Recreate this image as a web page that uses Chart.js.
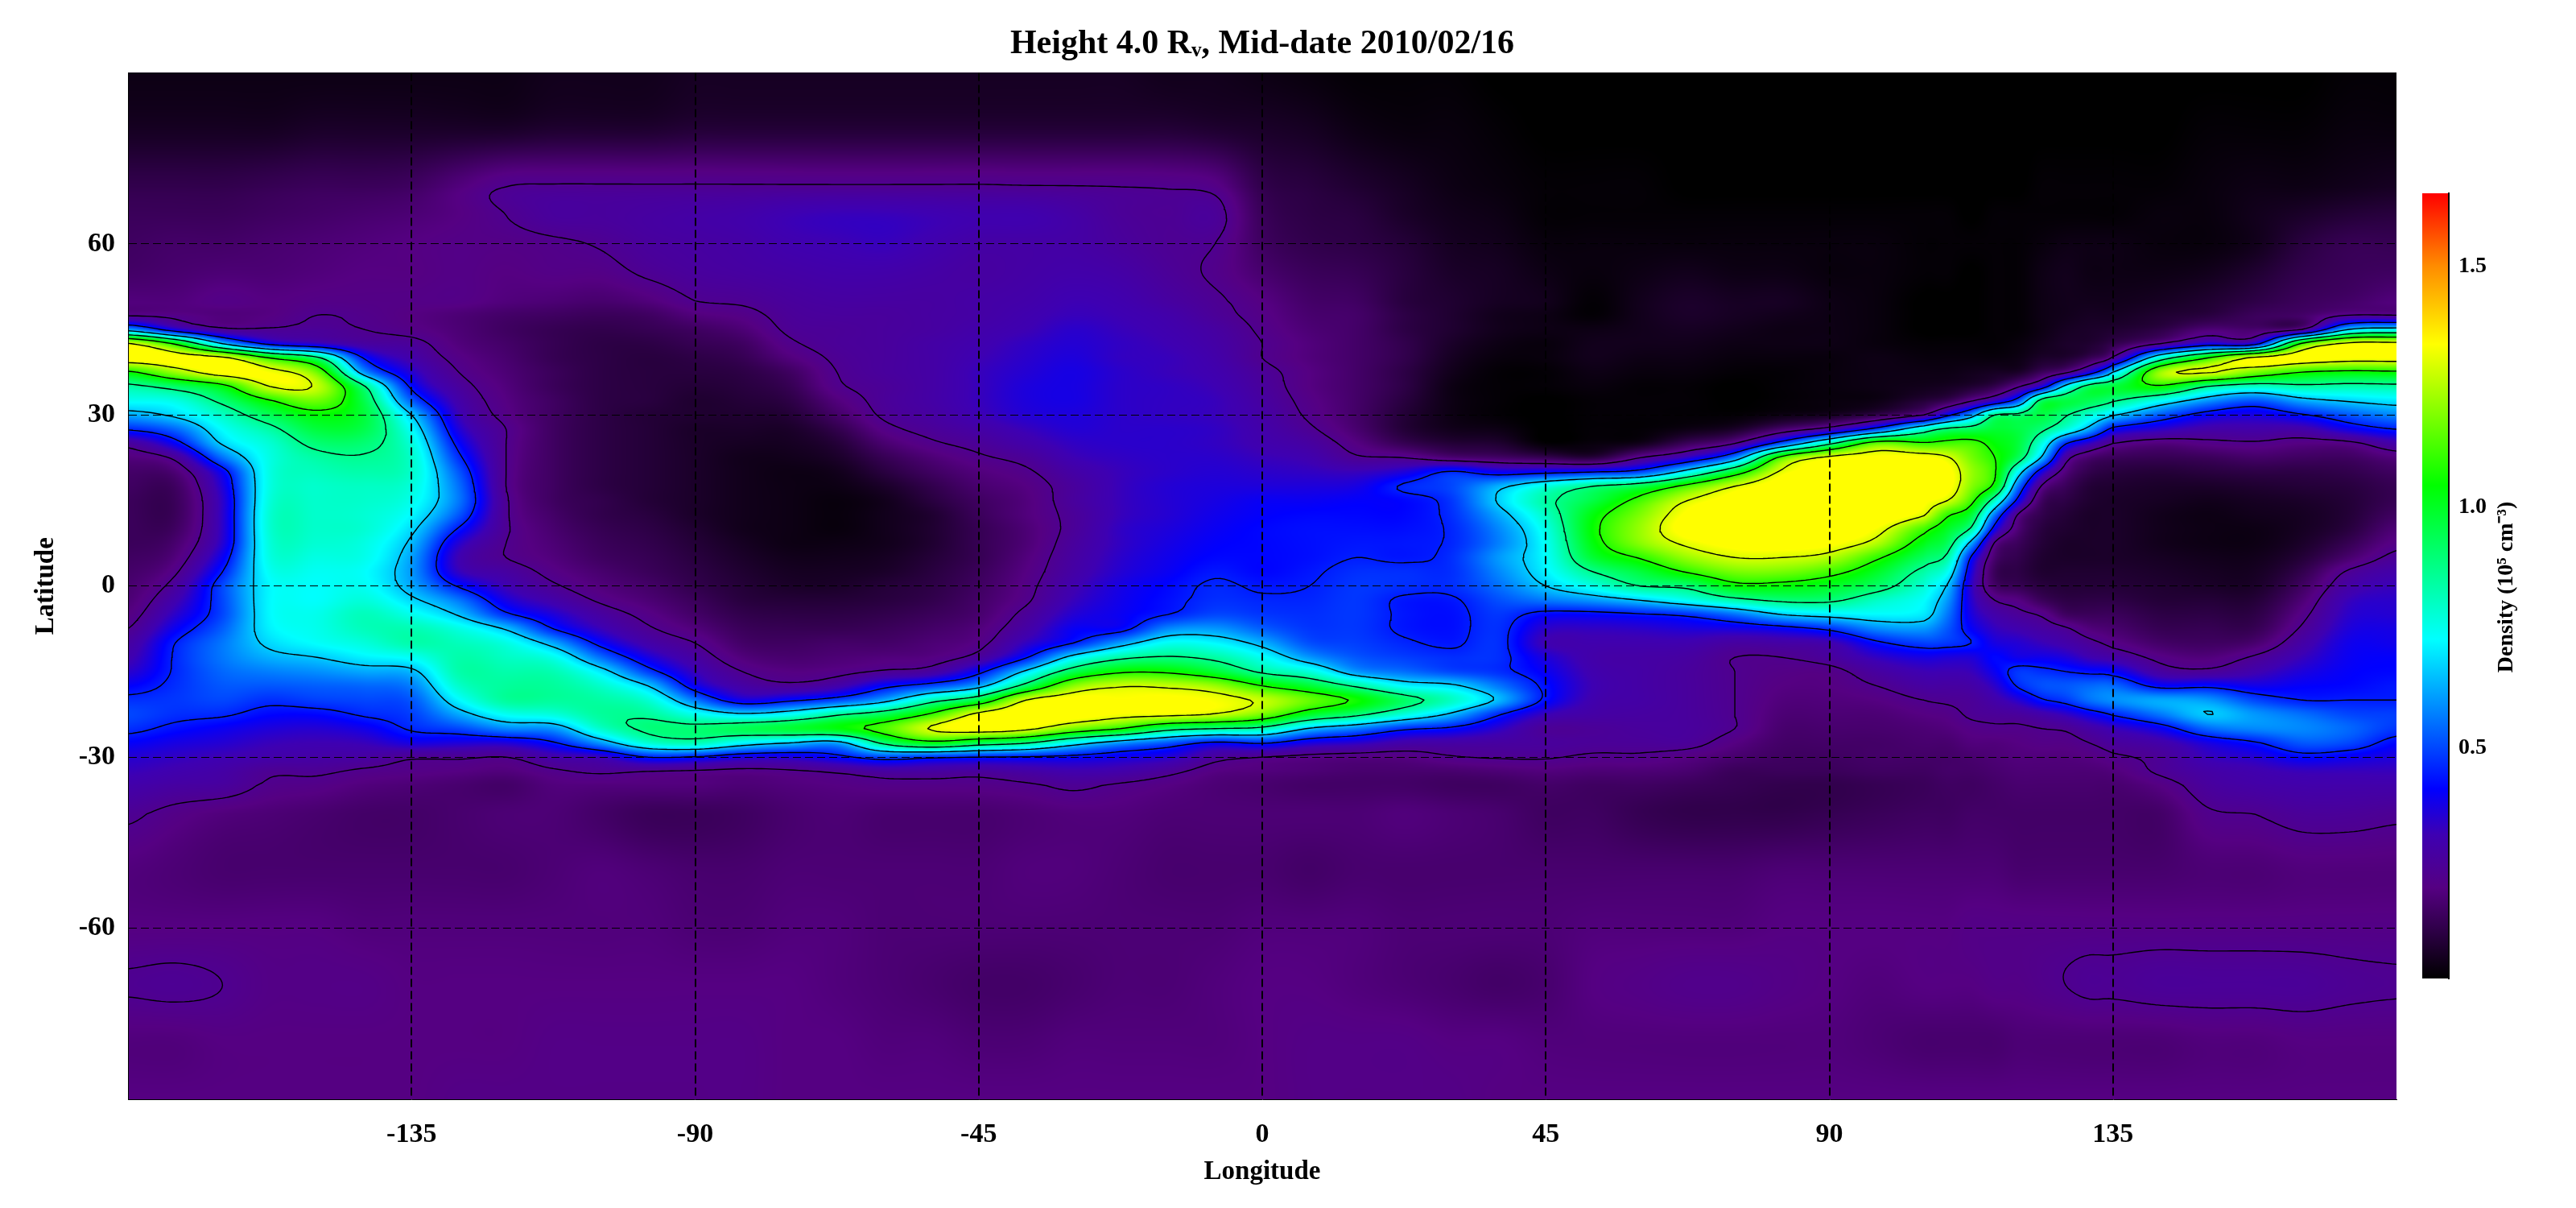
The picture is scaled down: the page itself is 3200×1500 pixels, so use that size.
<!DOCTYPE html>
<html lang="en">
<head>
    <meta charset="UTF-8">
    <title>Height 4.0 Rv, Mid-date 2010/02/16</title>
    <script src="https://cdn.jsdelivr.net/npm/chart.js@4"></script>
    <style>
        body { margin: 0; background: #fff; }
        #map { position: absolute; left: 0; top: 0; }
        #bar { position: absolute; left: 2990px; top: 0; }
    </style>
</head>
<body>
<canvas id="map" width="3200" height="1500"></canvas>
<canvas id="bar" width="210" height="1500"></canvas>

<script>
    const titleText = 'Height 4.0 R\u1D65, Mid-date 2010/02/16';
    const lonTicks = [-135, -90, -45, 0, 45, 90, 135];
    const latTicks = [-60, -30, 0, 30, 60];
    const barTicks = [0.5, 1.0, 1.5];
    const contourLevels = [0.24, 0.45, 0.66, 0.87, 1.08, 1.29];
    // the map is flat at yellow, nothing in it goes up to the red end of the bar
    const densityCeiling = 1.34;

    // colour bar: density value, then r, g, b
    const colorStops = [
        [0.022, 0, 0, 0],
        [0.12, 45, 0, 70],
        [0.21, 85, 0, 130],
        [0.32, 62, 0, 178],
        [0.415, 0, 0, 255],
        [0.726, 0, 255, 255],
        [1.045, 0, 255, 0],
        [1.338, 255, 255, 0],
        [1.5, 255, 140, 0],
        [1.651, 255, 0, 0]
    ];

    const latitudes = [90, 80, 70, 65, 60, 55, 50,
        47.5, 45, 42.5, 40, 37.5, 35, 32.5, 30, 27.5, 25,
        22.5, 20, 17.5, 15, 12.5, 10, 7.5, 5, 2.5, 0,
        -2.5, -5, -7.5, -10, -12.5, -15, -17.5, -20, -22.5, -25,
        -27.5, -30, -32.5, -35,
        -40, -50, -60, -70, -80, -90];

    const longitudes = [-180, -172.5, -165, -157.5, -150, -142.5, -135, -127.5, -120, -112.5,
        -105, -97.5, -90, -82.5, -75, -67.5, -60, -52.5, -45, -37.5, -30, -22.5, -15, -7.5,
        0, 7.5, 15, 22.5, 30, 37.5, 45, 52.5, 60, 67.5, 75, 82.5, 90, 97.5, 105, 108.75, 112.5,
        116.25, 120, 123.75, 127.5, 131.25, 135, 142.5, 150, 157.5, 165, 172.5, 180];

    // density x 100, one list per longitude, running down the latitudes above
    const densityByLon = [
        [5,7,13,15,16,17,20, 23,60,130,137,106,84,74,62,46,27, 20,17,16,15,15,15,15,16,17,18, 19,21,24,28,31,35,41,47,50,47, 41,36,33,30, 25,20,21,24.5,20,21],
        [5,7,13,15,17,18,20, 22,38,106,136,122,92,76,68,54,41, 26,19,16,15,15,16,18,20,23,27, 31,35,40,45,46,46,47,48,47,43, 38,34,31,28, 22,19,21,25,20,21],
        [5,7,13,15,17,19,22, 20,26,66,132,135,104,90,80,73,67, 55,41,37,35,35,35,36,40,45,50, 50,50,53,56,56,54,52,50,46,40, 36,32,29,27, 20,18,21,24,21,21],
        [5,7,14,16,18,19,21, 21,25,42,108,133,129,107,94,84,78, 76,76,76,77,78,78,77,76,74,72, 72,72,71,68,63,57,52,47,42,37, 33,30,25,23, 19,18,21,22,21,21],
        [5,8,15,17,19,20,22, 24,26,35,90,117,127,117,104,97,90, 84,81,79,79,79,79,78,76,74,73, 73,75,75,73,66,59,53,49,42,36, 32,29,25,22, 18,18,21,22,21,21],
        [5,8,15,18,20,21,22, 23,24,28,44,60,88,95,97,95,90, 86,83,80,79,78,78,76,75,73,74, 77,81,81,77,71,62,54,50,46,39, 33,28,23,20, 17,18,20,22,21,21],
        [5,8,16,19,21,21,22, 21,22,26,30,36,43,53,66,73,77, 79,79,77,75,72,68,64,61,60,62, 68,75,82,83,74,64,57,52,49,46, 38,25,22,19, 17,18,20,21,21,21],
        [5,8,20,21,22,22,22, 19,19,20,22,24,27,30,33,37,42, 47,52,55,56,52,44,36,32,34,44, 56,65,76,81,83,83,79,72,62,50, 37,25,21,18, 18,18,20,21,21,22],
        [5,8,24,24,22,21,20, 17,16,17,18,19,20,21,22,24,24, 24,24,24,25,25,25,24,24,28,32, 38,47,65,76,80,83,85,85,74,58, 37,24,20,17, 19,18,20,21,21,22],
        [6,9,24.5,27,23,22,19, 16,14,14,14,15,15,16,16,16,16, 16,16,16,16,17,18,19,20,22,25, 30,37,45,62,75,82,85,85,77,60, 44,30,23,20, 19,19,20,21,22,22],
        [6,9,24.5,27,24.5,22,18, 15,13,12,12,12,12,12,12,12,12, 12,12,12,13,13,14,15,16,18,20, 23,28,33,42,55,70,79,84,85,79, 60,33,25,20, 17,20,20,21,22,22],
        [6,9,24.5,28,27,25,20, 16,14,12,11,11,11,11,10,10,10, 10,10,10,10,11,12,13,14,15,17, 19,22,25,30,38,49,66,78,85,89, 78,45,24,20, 15,19,20,21,22,22],
        [7,10,24.5,29,28,27,24, 20,16,14,12,11,10,9,9,8,8, 8,8,8,8,8,9,10,11,12,13, 15,17,20,24,28,33,40,56,75,90, 82,44,23,20, 15,18,19,21,22,22],
        [7,10,24.5,30,29,28,25, 22,19,16,14,12,11,10,9,8,7, 6,6,6,6,6,6,7,8,9,10, 11,13,15,17,20,24,29,39,68,94, 72,38,22,19, 16,18,19,21,22,22],
        [7,10,24.5,32,31,29,27, 26,25,23,20,16,14,12,10,8,7, 6,5,5,5,5,5,5,6,7,8, 10,12,14,16,18,21,26,43,73,98, 66,37,23,20, 18,19,20,21,21,21],
        [7,10,24.5,33,32,30,28, 27,26,26,25,24,23,20,17,13,10, 8,6,5,4,4,4,5,6,7,8, 10,12,14,17,19,22,30,50,85,103, 62,42,25,21, 19,19,20,20,21,21],
        [7,10,24.5,33,33,30,28, 27,27,27,27,27,26,26,25,22,18, 14,11,8,6,6,6,6,7,8,10, 11,13,15,17,20,25,42,62,94,113, 90,50,28,22, 18,19,19,19,20,21],
        [7,10,24.5,32,31,29,28, 28,28,29,29,29,29,29,28,26,23, 19,16,13,11,9,9,9,10,11,12, 13,15,17,19,21,28,50,82,110,130, 103,47,28,22, 18,19,19,18,20,21],
        [7,10,24.5,31,29,28,29, 29,30,31,32,33,33,33,32,29,26, 23,20,18,16,15,14,14,14,15,16, 17,18,20,22,27,42,62,97,132,136, 95,45,27,22, 18,19,19,17,19,21],
        [7,10,24.3,31,29,29,30, 31,32,34,35,36,37,37,36,33,30, 26,23,21,20,20,19,19,20,21,22, 23,26,29,34,44,68,92,129,138,132, 88,44,29,23, 19,20,19,17,19,21],
        [7,10,24.2,29,29,30,32, 33,35,36,37,38,38,38,37,36,34, 32,29,27,27,26,26,27,28,29,31, 33,36,40,45,70,94,120,136,138,118, 72,42,31,25, 20,20,19,18,20,21],
        [7,10,24,26,27,29,31, 32,33,34,34,35,35,35,35,35,35, 34,33,33,33,33,34,34,35,36,38, 39,40,42,61,84,106,128,134,133,108, 60,39,30,23, 20,19,19,19,20,21],
        [6,10,23.5,25,25,26,28, 30,31,32,33,33,34,34,34,35,35, 35,35,36,36,36,37,38,39,40,42, 43,45,58,74,88,106,127,135,132,92, 52,36,26,21, 19,18,19,19,20,21],
        [6,9,22,26,24,23,25, 26,28,29,30,31,32,33,33,34,34, 35,36,37,38,39,40,41,42,44,46, 47,50,60,72,84,98,122,133,128,87, 43,27,21,19, 19,18,19,20,20,21],
        [5,8,13,15,16,18,21, 22,23,24,24,26,27,28,29,30,31, 33,35,37,40,41,42,42,42,42,44, 46,48,53,63,74,85,108,127,118,83, 46,24,20,18, 19,18,20,21,21,21],
        [4,7,11,12,13,15,17, 18,19,20,20,21,21,22,23,25,28, 31,34,37,40,42,43,43,43,44,45, 46,47,48,51,60,77,98,116,100,65, 38,22,19,17, 19,17,20,21,22,22],
        [3,5,9,11,12,14,16, 17,17,17,17,17,17,17,17,18,21, 25,33,38,41,42,43,44,45,47,48, 48,48,48,49,52,60,85,106,90,57, 35,21,18,17, 19,18,20,20,22,22],
        [3,4,7,8,10,11,11, 12,12,13,13,12,12,11,10,10,14, 24,37,46,42,42,43,44,44,47,47, 44,44,44,46,49,55,72,92,77,47, 30,21,18,17, 20,18,19,19,22,22],
        [3,4,5,6,7,8,9, 9,9,8,7,6,5,5,5,6,10, 19,46,50,48,47,46,46,47,47,47, 44,43,43,44,47,50,68,80,64,43, 29,23.5,18,16, 19,18,19,18,21,22],
        [2,3,4,5,6,7,7, 6,6,5,4,3,3,3,3,5,9, 17,40,63,67,62,58,57,60,58,55, 51,48,47,47,47,47,56,64,46,35, 28,24.5,19,16, 18,18,19,17,21,21],
        [2,2,3,3,4,5,6, 5,5,4,4,3,3,2,2,2,3, 14,42,76,84,80,76,74,73,71,66, 56,42,35,32,37,40,43,43,33,26, 27,24.5,20,17, 16,18,19,18,20,21],
        [2,2,3,3,4,4,3, 3,5,6,6,5,4,3,3,3,4, 11,45,87,96,103,105,103,98,87,76, 60,42,34,31,30,31,32,31,29,26, 26,23,19,16, 16,18,20,21,20,21],
        [2,2,3,3,4,5,6, 6,6,6,5,4,3,3,3,3,6, 24,50,95,112,119,122,120,109,97,87, 66,44,35,31,29,29,29,29,28,27, 26,23,19,16, 14,18,20,22,20,21],
        [2,2,2,3,4,6,8, 8,7,6,5,4,3,3,3,5,15, 35,72,112,129,135,137,131,122,109,90, 74,47,37,31,28,27,27,27,27,27, 26,21,18,15, 13,18,20,23,20,21],
        [2,2,2,3,4,5,7, 7,6,5,4,3,2,2,3,8,24, 58,100,129,137,140,140,136,129,118,104, 83,55,38,28,24,24,24,24,24,24, 21,18,15,14, 13,18,20,23,20,21],
        [2,2,2,3,4,5,7, 6,5,5,4,3,3,3,5,18,52, 113,131,138,140,140,140,137,129,118,104, 89,66,41,29,24,22,21,20,19,18, 17,16,15,13, 13,19,21,22,20,21],
        [2,2,2,3,4,4,5, 5,5,5,4,4,4,4,7,29,84, 132,136,140,140,140,140,135,125,112,100, 89,70,47,31,27,22,21,20,19,18, 17,16,15,13, 14,19,21,21,20,21],
        [2,2,2,3,4,4,4, 4,4,4,5,5,5,5,13,50,115, 135,140,140,140,140,133,125,110,100,92, 80,72,58,43,34,28,24,21,19,18, 17,17,16,14, 15,19,21,20,19,21],
        [2,2,2,3,3,3,2, 2,2,3,4,5,6,10,24,78,110, 135,140,140,135,130,112,102,93,84,78, 73,70,60,49,38,32,28,24,21,19, 18,17,16,15, 16,19,21,21,18,21],
        [2,2,2,3,3,3,2, 2,2,3,4,5,7,14,42,90,112, 130,136,136,129,110,100,93,84,74,65, 60,56,52,48,37,32,28,25,22,20, 18,17,17,16, 16,19,21,21,18,21],
        [2,2,2,2,3,2,2, 2,2,3,4,6,9,23,60,93,112, 118,122,120,112,98,85,62,44,38,35, 36,38,41,45,37,33,29,26,25,22, 20,18,17,16, 17,19,22,21,18,21],
        [2,2,2,3,3,3,3, 3,3,3,4,7,13,34,87,98,104, 108,109,104,80,56,40,23,18,15,17, 24,30,34,38,42,40,35,30,26,23, 20,19,18,17, 17,19,22,22,18,21],
        [2,2,2,3,3,3,3, 3,3,4,5,8,23,52,90,96,97, 93,72,55,41,23,19,15,13,12,14, 21,26,31,36,39,48,46,36,27,23, 21,20,19,18, 17,18,22,22,19,21],
        [2,2,3,3,4,5,5, 5,5,6,8,15,38,92,96,89,76, 64,38,23,16,13,11,10,9,9,11, 15,23,28,33,39,47,51,44,30,24, 22,20,19,18, 17,18,22,23,19,21],
        [2,2,3,3,5,6,6, 6,7,8,9,22,70,96,88,77,46, 28,20,15,12,10,9,8,8,9,10, 12,16,25,30,37,45,52,48,34,25, 22,20,19,18, 17,18,22,24,19,21],
        [2,2,3,3,5,5,6, 7,8,9,14,38,92,94,78,62,34, 18,13,10,9,8,8,8,8,9,10, 12,15,20,26,32,43,54,55,40,29, 24,21,19,18, 17,18,22,25,19,21],
        [2,2,3,3,5,5,6, 7,9,13,26,66,97,88,67,42,24, 15,11,9,8,8,8,8,8,9,10, 12,15,18,22,29,41,54,59,46,33, 27,23,20,18, 17,18,22,25,19,21],
        [2,2,3,4,4,5,7, 9,12,24,78,122,106,74,52,35,20, 14,10,8,7,6,6,6,7,8,9, 10,12,14,17,22,28,42,62,56,40, 30,26,25,21, 17,18,22,26,19,21],
        [2,3,4,4,4,6,9, 11,19,38,108,130,87,60,41,30,22, 15,11,8,6,5,5,5,6,7,8, 10,12,14,16,20,26,43,60,66,54, 38,33,29,27, 23,19,22,26,20,21],
        [2,3,5,6,6,9,12, 15,18,40,132,118,80,52,38,30,23, 17,12,9,7,6,5,5,6,7,8, 10,12,14,18,25,31,39,50,60,58, 44,36,31,29, 24,19,22,26,20,21],
        [2,3,5,8,11,13,15, 17,24,110,136,108,84,62,44,30,21, 16,12,10,8,7,7,8,10,13,16, 19,22,25,29,33,37,41,45,55,58, 52,42,33,30, 26,20,22,26,21,21],
        [3,4,6,10,14,15,17, 24,66,132,134,105,83,67,52,39,22, 16,13,11,10,10,11,14,18,25,29, 33,35,37,39,40,41,42,45,50,54, 50,40,33,30, 26,20,22,25,21,21],
        [3,4,7,11,14,16,20, 24,72,133,134,106,84,70,58,45,30, 20,16,14,14,16,19,22,26,30,33, 35,36,38,39,41,42,44,45,49,48, 42,37,33,30, 25,20,22,24.5,21,21]
    ];

    const serif = '"Liberation Serif", serif';

    // Where a value falls between two neighbours in an ascending or descending list, as a fractional index
    function fractionalIndex(list, value) {
        const rising = list[1] > list[0];
        for (let i = 0; i < list.length - 1; i++) {
            const inside = rising ? value <= list[i + 1] : value >= list[i + 1];
            if (inside) {
                return i + (value - list[i]) / (list[i + 1] - list[i]);
            }
        }
        return list.length - 1;
    }

    function catmullRom(a, b, c, d, t) {
        return b + 0.5 * t * (c - a + t * (2 * a - 5 * b + 4 * c - d + t * (3 * (b - c) + d - a)));
    }

    // The map is a smooth field, so the grid is read with a bicubic between its cells
    function densityAt(lon, lat) {
        const fx = fractionalIndex(longitudes, lon);
        const fy = fractionalIndex(latitudes, lat);
        const ix = Math.min(Math.floor(fx), longitudes.length - 2);
        const iy = Math.min(Math.floor(fy), latitudes.length - 2);
        const rows = [];
        for (let k = -1; k <= 2; k++) {
            const col = densityByLon[Math.max(0, Math.min(longitudes.length - 1, ix + k))];
            const at = n => col[Math.max(0, Math.min(latitudes.length - 1, n))];
            rows.push(catmullRom(at(iy - 1), at(iy), at(iy + 1), at(iy + 2), fy - iy));
        }
        const value = catmullRom(rows[0], rows[1], rows[2], rows[3], fx - ix) / 100;
        return Math.max(0.022, Math.min(densityCeiling, value));
    }

    function colorOf(value) {
        for (let i = 0; i < colorStops.length - 1; i++) {
            const a = colorStops[i], b = colorStops[i + 1];
            if (value <= b[0]) {
                const t = Math.max(0, (value - a[0]) / (b[0] - a[0]));
                return [a[1] + t * (b[1] - a[1]), a[2] + t * (b[2] - a[2]), a[3] + t * (b[3] - a[3])];
            }
        }
        const last = colorStops[colorStops.length - 1];
        return [last[1], last[2], last[3]];
    }

    // Marching squares over the field: one list of line pieces per level, null breaks the line
    function contourPoints(level) {
        const points = [];
        const stepLon = 0.75, stepLat = 0.5;
        const cross = (x0, y0, v0, x1, y1, v1) => {
            const t = (level - v0) / (v1 - v0);
            return { x: x0 + t * (x1 - x0), y: y0 + t * (y1 - y0) };
        };
        for (let lon = -180; lon < 180; lon += stepLon) {
            for (let lat = -90; lat < 90; lat += stepLat) {
                const a = fieldCache(lon, lat);
                const b = fieldCache(lon + stepLon, lat);
                const c = fieldCache(lon + stepLon, lat + stepLat);
                const d = fieldCache(lon, lat + stepLat);
                const found = [];
                if ((a < level) !== (b < level)) found.push(cross(lon, lat, a, lon + stepLon, lat, b));
                if ((b < level) !== (c < level)) found.push(cross(lon + stepLon, lat, b, lon + stepLon, lat + stepLat, c));
                if ((d < level) !== (c < level)) found.push(cross(lon, lat + stepLat, d, lon + stepLon, lat + stepLat, c));
                if ((a < level) !== (d < level)) found.push(cross(lon, lat, a, lon, lat + stepLat, d));
                for (let i = 0; i + 1 < found.length; i += 2) {
                    points.push(found[i], found[i + 1], { x: found[i + 1].x, y: null });
                }
            }
        }
        return points;
    }

    const cache = new Map();
    function fieldCache(lon, lat) {
        const key = lon * 1000 + lat * 1000000;
        if (!cache.has(key)) {
            cache.set(key, densityAt(lon, lat));
        }
        return cache.get(key);
    }

    const heatmapPlugin = {
        id: 'heatmap',
        beforeDraw(chart) {
            const { ctx, chartArea: area, scales: { x, y } } = chart;
            const left = Math.round(area.left), top = Math.round(area.top);
            const width = Math.round(area.right) - left, height = Math.round(area.bottom) - top;
            const image = ctx.createImageData(width, height);
            for (let py = 0; py < height; py++) {
                const lat = y.getValueForPixel(top + py + 0.5);
                for (let px = 0; px < width; px++) {
                    const lon = x.getValueForPixel(left + px + 0.5);
                    const rgb = colorOf(densityAt(lon, lat));
                    const o = (py * width + px) * 4;
                    image.data[o] = rgb[0];
                    image.data[o + 1] = rgb[1];
                    image.data[o + 2] = rgb[2];
                    image.data[o + 3] = 255;
                }
            }
            ctx.putImageData(image, left, top);
        }
    };

    new Chart(document.getElementById('map'), {
        type: 'scatter',
        data: {
            datasets: contourLevels.map(level => ({
                label: 'Density ' + level,
                data: contourPoints(level),
                showLine: true,
                pointRadius: 0,
                borderColor: '#000',
                borderWidth: 1.4,
                borderCapStyle: 'round',
                spanGaps: false
            }))
        },
        options: {
            responsive: false,
            animation: false,
            events: [],
            layout: { padding: { left: 0, top: 0, right: 223, bottom: 0 } },
            plugins: {
                legend: { display: false },
                tooltip: { enabled: false },
                title: {
                    display: true,
                    fullSize: false,
                    text: titleText,
                    color: '#000',
                    font: { family: serif, weight: 'bold', size: 42, lineHeight: 1.2 },
                    padding: { top: 30, bottom: 10 }
                }
            },
            scales: {
                x: {
                    type: 'linear',
                    min: -180,
                    max: 180,
                    afterBuildTicks: scale => { scale.ticks = lonTicks.map(value => ({ value })); },
                    afterFit: scale => { scale.height = 135; },
                    border: { color: '#000', width: 1, dash: [10, 5] },
                    grid: { color: '#000', lineWidth: 2, drawTicks: false },
                    ticks: {
                        color: '#000',
                        maxRotation: 0,
                        padding: 24,
                        font: { family: serif, weight: 'bold', size: 34 }
                    },
                    title: {
                        display: true,
                        text: 'Longitude',
                        color: '#000',
                        font: { family: serif, weight: 'bold', size: 33 },
                        padding: { top: 0, bottom: 25 }
                    }
                },
                y: {
                    type: 'linear',
                    min: -90,
                    max: 90,
                    afterBuildTicks: scale => { scale.ticks = latTicks.map(value => ({ value })); },
                    afterFit: scale => { scale.width = 159; },
                    border: { color: '#000', width: 1, dash: [10, 5] },
                    grid: { color: '#000', lineWidth: 1, drawTicks: false },
                    ticks: {
                        color: '#000',
                        padding: 16,
                        font: { family: serif, weight: 'bold', size: 34 }
                    },
                    title: {
                        display: true,
                        text: 'Latitude',
                        color: '#000',
                        font: { family: serif, weight: 'bold', size: 33 },
                        padding: { top: 38, bottom: 0 }
                    }
                }
            }
        },
        plugins: [heatmapPlugin]
    });

    const colorBarPlugin = {
        id: 'colorBar',
        beforeDraw(chart) {
            const { ctx, chartArea: area, scales: { y } } = chart;
            const gradient = ctx.createLinearGradient(0, y.getPixelForValue(colorStops[0][0]), 0, y.getPixelForValue(1.651));
            colorStops.forEach(stop => {
                gradient.addColorStop((stop[0] - 0.022) / (1.651 - 0.022), `rgb(${stop[1]},${stop[2]},${stop[3]})`);
            });
            ctx.fillStyle = gradient;
            ctx.fillRect(area.left, area.top, area.right - area.left, area.bottom - area.top);
        },
        afterDraw(chart) {
            const { ctx } = chart;
            ctx.save();
            ctx.translate(124, 729);
            ctx.rotate(-Math.PI / 2);
            ctx.fillStyle = '#000';
            ctx.textAlign = 'center';
            ctx.textBaseline = 'middle';
            ctx.font = 'bold 28px ' + serif;
            ctx.fillText('Density (10\u2075 cm\u207B\u00B3)', 0, 0);
            ctx.restore();
        }
    };

    new Chart(document.getElementById('bar'), {
        type: 'scatter',
        data: { datasets: [] },
        options: {
            responsive: false,
            animation: false,
            events: [],
            layout: { padding: { left: 19, top: 240, right: 0, bottom: 285 } },
            plugins: { legend: { display: false }, tooltip: { enabled: false } },
            scales: {
                x: { display: false, min: 0, max: 1 },
                y: {
                    position: 'right',
                    type: 'linear',
                    min: 0.022,
                    max: 1.651,
                    afterBuildTicks: scale => { scale.ticks = barTicks.map(value => ({ value })); },
                    afterFit: scale => { scale.width = 158; },
                    border: { color: '#000', width: 2 },
                    grid: { display: false, drawTicks: false },
                    ticks: {
                        color: '#000',
                        padding: 12,
                        font: { family: serif, weight: 'bold', size: 28 },
                        callback: value => value.toFixed(1)
                    }
                }
            }
        },
        plugins: [colorBarPlugin]
    });
</script>
</body>
</html>
